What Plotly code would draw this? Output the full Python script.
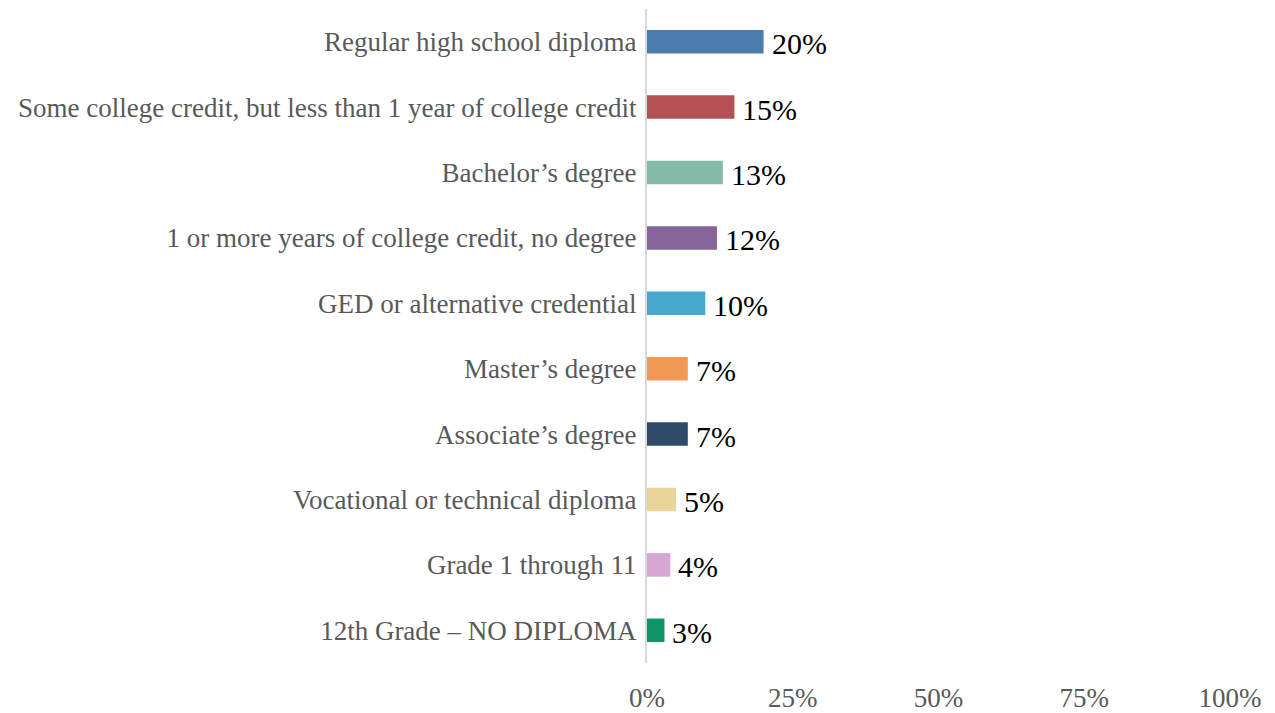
import plotly.graph_objects as go

categories = [
    "Regular high school diploma",
    "Some college credit, but less than 1 year of college credit",
    "Bachelor’s degree",
    "1 or more years of college credit, no degree",
    "GED or alternative credential",
    "Master’s degree",
    "Associate’s degree",
    "Vocational or technical diploma",
    "Grade 1 through 11",
    "12th Grade – NO DIPLOMA",
]
shares = [20, 15, 13, 12, 10, 7, 7, 5, 4, 3]
bar_colors = [
    "#4A7DAD", "#B45155", "#84BAA8", "#85659A", "#47A8CF",
    "#F29A55", "#2F4B6A", "#E9D59A", "#D6A7D1", "#0E9467",
]
tick_values = [0, 25, 50, 75, 100]
tick_labels = ["0%", "25%", "50%", "75%", "100%"]

fig = go.Figure(
    go.Bar(
        x=shares,
        y=categories,
        orientation="h",
        marker=dict(color=bar_colors, line=dict(width=0)),
        hoverinfo="skip",
    )
)

for cat, val in zip(categories, shares):
    fig.add_annotation(
        x=val, y=cat, text=f"{val}%", showarrow=False,
        xanchor="left", yanchor="middle", xshift=6, yshift=-2,
        font=dict(family="Liberation Serif", size=30, color="#000000"),
    )

fig.update_layout(
    width=1275, height=713,
    margin=dict(l=647, r=45, t=9, b=50),
    paper_bgcolor="white", plot_bgcolor="white",
    bargap=0.64,
    showlegend=False,
    font=dict(family="Liberation Serif", color="#595959"),
)
fig.update_xaxes(
    range=[0, 100], tickvals=tick_values, ticktext=tick_labels,
    showgrid=False, zeroline=False, showline=False,
    tickfont=dict(size=27, color="#595959"),
    ticklabelstandoff=16, automargin=False,
)
fig.update_yaxes(
    autorange="reversed", showgrid=False, zeroline=False,
    showline=True, linecolor="#D9D9D9", linewidth=2,
    tickfont=dict(size=27, color="#595959"),
    ticklabelstandoff=3, automargin=False,
)

fig.write_html("out.html")
